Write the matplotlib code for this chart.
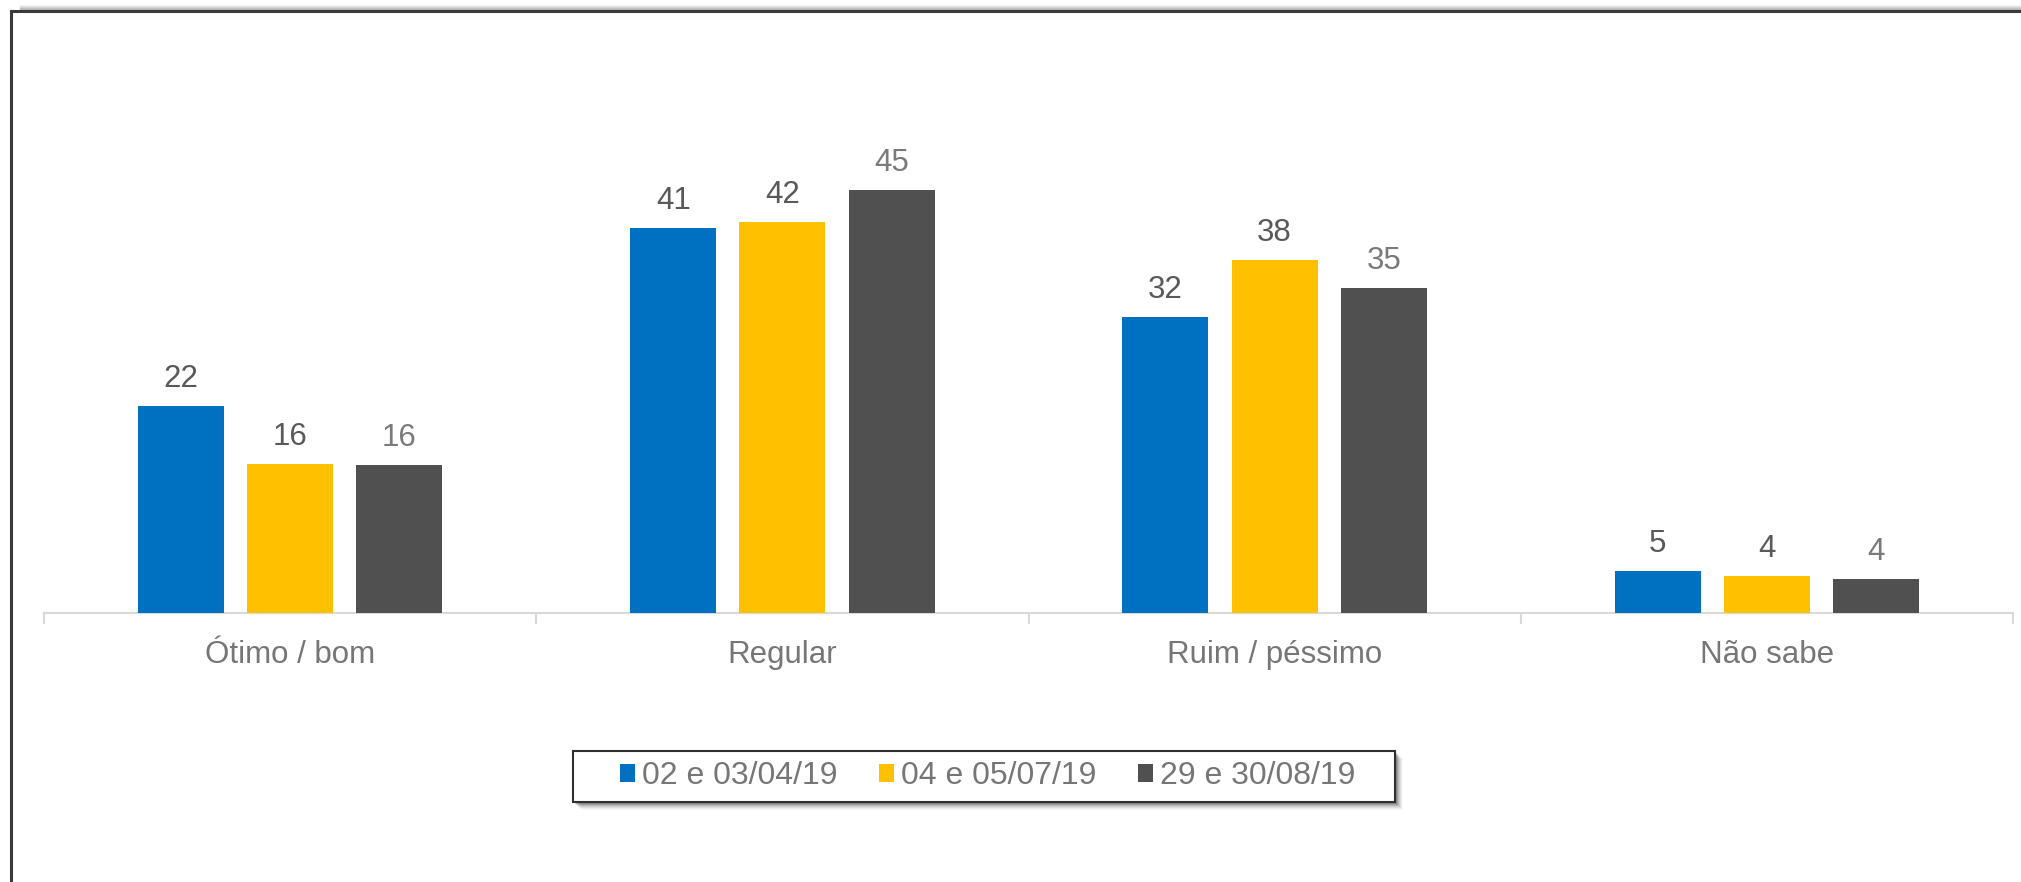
import numpy as np
import matplotlib.pyplot as plt
from matplotlib.patches import Rectangle
from matplotlib.lines import Line2D

plt.rcParams['font.family'] = ['Liberation Sans', 'DejaVu Sans']

# categories and series (bar heights, labels as printed)
categories = ['Ótimo / bom', 'Regular', 'Ruim / péssimo', 'Não sabe']
series_names = ['02 e 03/04/19', '04 e 05/07/19', '29 e 30/08/19']
apr_values = [22.0, 41.0, 31.5, 4.4]
jul_values = [15.8, 41.6, 37.6, 3.9]
aug_values = [15.7, 45.0, 34.6, 3.6]
apr_labels = ['22', '41', '32', '5']
jul_labels = ['16', '42', '38', '4']
aug_labels = ['16', '45', '35', '4']

colors = ['#0070C0', '#FFC000', '#505050']
label_colors = ['#595959', '#595959', '#7a7a7a']

W, H = 2021, 882
fig = plt.figure(figsize=(W / 100, H / 100), dpi=100)


def fx(px):
    return px / W


def fy(py):
    return 1 - py / H


# axes placed in pixels: x from 44 to 2013, baseline at 612.5
ax = fig.add_axes([fx(44), fy(612.5), 1969 / W, (612.5 - 40) / H])

x = np.arange(len(categories))
pitch = 0.2218
bar_w = 0.1747
all_values = [apr_values, jul_values, aug_values]
all_labels = [apr_labels, jul_labels, aug_labels]

for i, (vals, labs) in enumerate(zip(all_values, all_labels)):
    pos = x + (i - 1) * pitch
    ax.bar(pos, vals, width=bar_w, color=colors[i], label=series_names[i], zorder=3)
    for px_, v, lab in zip(pos, vals, labs):
        ax.annotate(lab, (px_, v), xytext=(0, 13.7), textcoords='offset points',
                    ha='center', va='baseline', fontsize=22.5, color=label_colors[i])

ax.set_xlim(-0.5, len(categories) - 0.5)
ax.set_ylim(0, 572.5 / 9.38)

for s in ['top', 'right', 'left']:
    ax.spines[s].set_visible(False)
ax.spines['bottom'].set_color('#d9d9d9')
ax.spines['bottom'].set_linewidth(1.5)
ax.set_yticks([])

# ticks at category boundaries, labels at centers
ax.set_xticks(np.arange(-0.5, len(categories)), labels=[''] * (len(categories) + 1))
ax.tick_params(axis='x', which='major', length=8, width=1.5, color='#d9d9d9')
ax.set_xticks(x, labels=categories, minor=True)
ax.tick_params(axis='x', which='minor', length=0, pad=20, labelsize=22.5, labelcolor='#767676')

# legend box drawn by hand (wide side padding, soft shadow)
bx0, by0, bx1, by1 = 573.3, 750.7, 1394.5, 802.3
for k, a in enumerate([0.16, 0.13, 0.10, 0.08, 0.06, 0.04, 0.03]):
    off = 2 + k
    fig.add_artist(Rectangle((fx(bx0 + off), fy(by1 + off)), (bx1 - bx0) / W, (by1 - by0) / H,
                             transform=fig.transFigure, facecolor='black', edgecolor='none',
                             alpha=a, zorder=1))
fig.add_artist(Rectangle((fx(bx0), fy(by1)), (bx1 - bx0) / W, (by1 - by0) / H,
                         transform=fig.transFigure, facecolor='white', edgecolor='#303030',
                         linewidth=1.5, zorder=2))

leg = fig.legend(loc='center', bbox_to_anchor=(fx(988), fy(776.5)), ncol=3,
                 fontsize=23, handlelength=0.47, handleheight=0.5, handletextpad=0.22,
                 columnspacing=1.3, borderpad=0, frameon=False)
leg.set_zorder(5)
for t in leg.get_texts():
    t.set_color('#767676')

# outer frame (only the top and left edges fall inside the picture)
fig.add_artist(Rectangle((fx(11), -0.1), 1.2, 1 - 11 / H + 0.1, transform=fig.transFigure,
                         fill=False, edgecolor='#3a3a3a', linewidth=2.2))
for k, a in enumerate([0.25, 0.18, 0.12, 0.07, 0.03]):
    y = fy(8.5 - k)
    fig.add_artist(Line2D([fx(20), 1], [y, y], transform=fig.transFigure,
                          color='black', alpha=a, linewidth=1))

fig.savefig('out.png', dpi=100)
